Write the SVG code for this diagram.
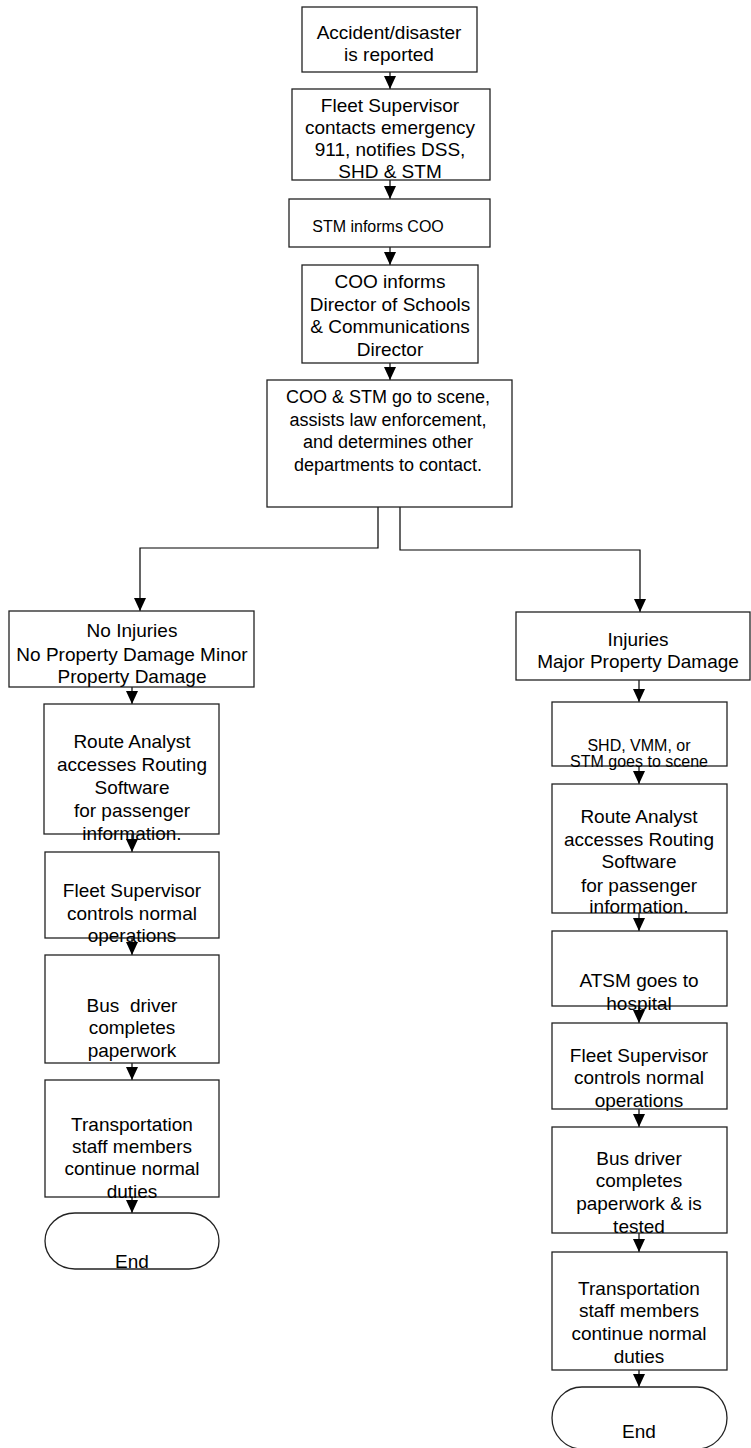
<svg xmlns="http://www.w3.org/2000/svg" width="751" height="1448" viewBox="0 0 751 1448">
<defs>
<style>
.box{fill:#fff;stroke:#222;stroke-width:1.3}
.t{font-family:"Liberation Sans",Arial,sans-serif;font-size:19px;fill:#000;text-anchor:middle}
.s{font-size:16px}
.m{font-size:18px}
.c{fill:none;stroke:#000;stroke-width:1.2}
</style>
<marker id="ah" viewBox="0 0 13 12" refX="13" refY="6" markerWidth="13" markerHeight="12" orient="auto" markerUnits="userSpaceOnUse">
<path d="M0,0 L13,6 L0,12 z" fill="#000"/>
</marker>
</defs>
<rect x="0" y="0" width="751" height="1448" fill="#fff"/>

<g id="connectors">
<line class="c" x1="390" y1="72" x2="390" y2="89" marker-end="url(#ah)"/>
<line class="c" x1="390" y1="180" x2="390" y2="199" marker-end="url(#ah)"/>
<line class="c" x1="390" y1="247" x2="390" y2="265" marker-end="url(#ah)"/>
<line class="c" x1="390" y1="363" x2="390" y2="380" marker-end="url(#ah)"/>
<polyline class="c" points="378,507 378,548 140,548 140,611" marker-end="url(#ah)"/>
<polyline class="c" points="400,507 400,550 640,550 640,612" marker-end="url(#ah)"/>
<line class="c" x1="132" y1="687" x2="132" y2="704" marker-end="url(#ah)"/>
<line class="c" x1="132" y1="834" x2="132" y2="852" marker-end="url(#ah)"/>
<line class="c" x1="132" y1="938" x2="132" y2="955" marker-end="url(#ah)"/>
<line class="c" x1="132" y1="1063" x2="132" y2="1080" marker-end="url(#ah)"/>
<line class="c" x1="132" y1="1197" x2="132" y2="1213" marker-end="url(#ah)"/>
<line class="c" x1="639" y1="680" x2="639" y2="702" marker-end="url(#ah)"/>
<line class="c" x1="639" y1="766" x2="639" y2="784" marker-end="url(#ah)"/>
<line class="c" x1="639" y1="913" x2="639" y2="931" marker-end="url(#ah)"/>
<line class="c" x1="639" y1="1006" x2="639" y2="1023" marker-end="url(#ah)"/>
<line class="c" x1="639" y1="1109" x2="639" y2="1127" marker-end="url(#ah)"/>
<line class="c" x1="639" y1="1233" x2="639" y2="1252" marker-end="url(#ah)"/>
<line class="c" x1="639" y1="1370" x2="639" y2="1387" marker-end="url(#ah)"/>
</g>

<g id="n1">
<rect class="box" x="302" y="7" width="175" height="65"/>
<text class="t" x="389" y="39">Accident/disaster</text>
<text class="t" x="389" y="61">is reported</text>
</g>
<g id="n2">
<rect class="box" x="292" y="89" width="198" height="91"/>
<text class="t" x="390" y="112">Fleet Supervisor</text>
<text class="t" x="390" y="134">contacts emergency</text>
<text class="t" x="390" y="156">911, notifies DSS,</text>
<text class="t" x="390" y="178">SHD &amp; STM</text>
</g>
<g id="n3">
<rect class="box" x="289" y="199" width="201" height="48"/>
<text class="t s" x="378" y="232">STM informs COO</text>
</g>
<g id="n4">
<rect class="box" x="302" y="265" width="176" height="98"/>
<text class="t" x="390" y="288">COO informs</text>
<text class="t" x="390" y="311">Director of Schools</text>
<text class="t" x="390" y="333">&amp; Communications</text>
<text class="t" x="390" y="356">Director</text>
</g>
<g id="n5">
<rect class="box" x="267" y="380" width="245" height="127"/>
<text class="t m" x="388" y="403">COO &amp; STM go to scene,</text>
<text class="t m" x="388" y="425.5">assists law enforcement,</text>
<text class="t m" x="388" y="448">and determines other</text>
<text class="t m" x="388" y="470.5">departments to contact.</text>
</g>

<g id="l1">
<rect class="box" x="9" y="611" width="245" height="76"/>
<text class="t" x="132" y="637">No Injuries</text>
<text class="t" x="132" y="661">No Property Damage Minor</text>
<text class="t" x="132" y="683">Property Damage</text>
</g>
<g id="l2">
<rect class="box" x="44" y="704" width="175" height="130"/>
<text class="t" x="132" y="748">Route Analyst</text>
<text class="t" x="132" y="771">accesses Routing</text>
<text class="t" x="132" y="794">Software</text>
<text class="t" x="132" y="817">for passenger</text>
<text class="t" x="132" y="840">information.</text>
</g>
<g id="l3">
<rect class="box" x="45" y="852" width="174" height="86"/>
<text class="t" x="132" y="897">Fleet Supervisor</text>
<text class="t" x="132" y="920">controls normal</text>
<text class="t" x="132" y="942">operations</text>
</g>
<g id="l4">
<rect class="box" x="45" y="955" width="174" height="108"/>
<text class="t" x="132" y="1012" xml:space="preserve">Bus  driver</text>
<text class="t" x="132" y="1034">completes</text>
<text class="t" x="132" y="1057">paperwork</text>
</g>
<g id="l5">
<rect class="box" x="45" y="1080" width="174" height="117"/>
<text class="t" x="132" y="1131">Transportation</text>
<text class="t" x="132" y="1153">staff members</text>
<text class="t" x="132" y="1175">continue normal</text>
<text class="t" x="132" y="1198">duties</text>
</g>
<g id="l6">
<path class="box" d="M75,1213 L189,1213 A30,28 0 0 1 189,1269 L75,1269 A30,28 0 0 1 75,1213 z"/>
<text class="t" x="132" y="1268">End</text>
</g>

<g id="r1">
<rect class="box" x="516" y="612" width="234" height="68"/>
<text class="t" x="638" y="646">Injuries</text>
<text class="t" x="638" y="668">Major Property Damage</text>
</g>
<g id="r2">
<rect class="box" x="552" y="702" width="175" height="64"/>
<text class="t s" x="639" y="751">SHD, VMM, or</text>
<text class="t s" x="639" y="767">STM goes to scene</text>
</g>
<g id="r3">
<rect class="box" x="552" y="784" width="175" height="129"/>
<text class="t" x="639" y="823">Route Analyst</text>
<text class="t" x="639" y="846">accesses Routing</text>
<text class="t" x="639" y="868">Software</text>
<text class="t" x="639" y="892">for passenger</text>
<text class="t" x="639" y="913">information.</text>
</g>
<g id="r4">
<rect class="box" x="552" y="931" width="175" height="75"/>
<text class="t" x="639" y="987">ATSM goes to</text>
<text class="t" x="639" y="1010">hospital</text>
</g>
<g id="r5">
<rect class="box" x="552" y="1023" width="175" height="86"/>
<text class="t" x="639" y="1062">Fleet Supervisor</text>
<text class="t" x="639" y="1084">controls normal</text>
<text class="t" x="639" y="1107">operations</text>
</g>
<g id="r6">
<rect class="box" x="552" y="1127" width="175" height="106"/>
<text class="t" x="639" y="1165">Bus driver</text>
<text class="t" x="639" y="1187">completes</text>
<text class="t" x="639" y="1210">paperwork &amp; is</text>
<text class="t" x="639" y="1233">tested</text>
</g>
<g id="r7">
<rect class="box" x="552" y="1252" width="175" height="118"/>
<text class="t" x="639" y="1295">Transportation</text>
<text class="t" x="639" y="1317">staff members</text>
<text class="t" x="639" y="1340">continue normal</text>
<text class="t" x="639" y="1363">duties</text>
</g>
<g id="r8">
<path class="box" d="M582,1387 L697,1387 A30,31 0 0 1 697,1449 L582,1449 A30,31 0 0 1 582,1387 z"/>
<text class="t" x="639" y="1438">End</text>
</g>
</svg>
